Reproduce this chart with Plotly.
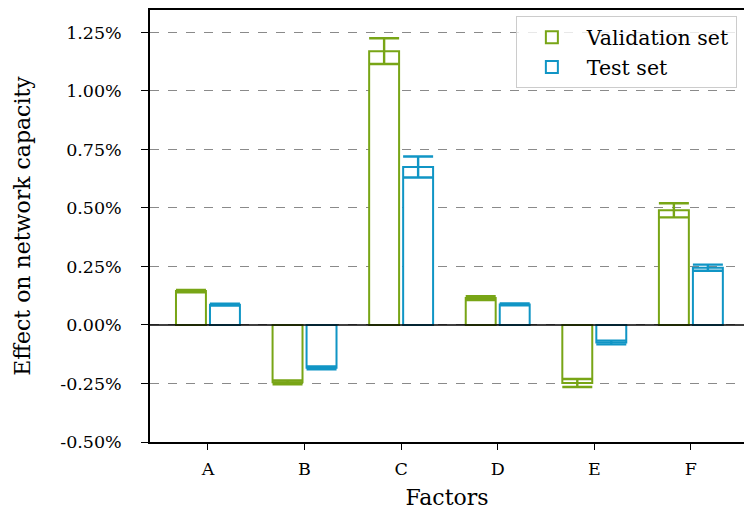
import plotly.graph_objects as go

factors = ["A", "B", "C", "D", "E", "F"]
val_mean = [0.145, -0.245, 1.170, 0.115, -0.248, 0.490]
val_err = [0.005, 0.008, 0.055, 0.008, 0.017, 0.030]
test_mean = [0.087, -0.183, 0.675, 0.088, -0.075, 0.245]
test_err = [0.004, 0.006, 0.045, 0.004, 0.008, 0.013]
tick_vals = [-0.5, -0.25, 0.0, 0.25, 0.5, 0.75, 1.0, 1.25]
tick_text = ["-0.50%", "-0.25%", "0.00%", "0.25%", "0.50%", "0.75%", "1.00%", "1.25%"]

GREEN = "#78a516"
BLUE = "#1095c5"
FONT = "DejaVu Serif"

fig = go.Figure()
fig.add_trace(go.Bar(
    x=factors, y=val_mean, name="Validation set",
    width=0.31, offset=-0.331,
    marker=dict(color="white", line=dict(color=GREEN, width=2)),
    error_y=dict(type="data", array=val_err, color=GREEN, thickness=2.4, width=15),
))
fig.add_trace(go.Bar(
    x=factors, y=test_mean, name="Test set",
    width=0.31, offset=0.021,
    marker=dict(color="white", line=dict(color=BLUE, width=2)),
    error_y=dict(type="data", array=test_err, color=BLUE, thickness=2.4, width=15),
))

fig.add_hline(y=0, line=dict(color="black", width=1.5), layer="above")

fig.update_layout(
    width=744, height=512,
    margin=dict(l=150, r=0, t=10, b=70),
    plot_bgcolor="white", paper_bgcolor="white",
    font=dict(family=FONT, size=17, color="black"),
    barmode="overlay",
    showlegend=True,
    legend=dict(
        x=0.988, y=0.985, xanchor="right", yanchor="top",
        bgcolor="rgba(255,255,255,0.8)", bordercolor="#cccccc", borderwidth=1,
        font=dict(family=FONT, size=20.5), itemwidth=60,
    ),
    xaxis=dict(
        range=[-0.6, 5.55], showline=True, linecolor="black", linewidth=1.5,
        mirror=True, ticks="outside", ticklen=6, tickwidth=1.2, tickcolor="black",
        showgrid=False, zeroline=False,
        title=dict(text="Factors", font=dict(family=FONT, size=22), standoff=12),
        tickfont=dict(family=FONT, size=17.5),
        ticklabelstandoff=4,
    ),
    yaxis=dict(
        range=[-0.5, 1.346], tickvals=tick_vals, ticktext=tick_text,
        showline=True, linecolor="black", linewidth=1.5,
        ticks="outside", ticklen=7, tickwidth=1.2, tickcolor="black",
        showgrid=True, gridcolor="#8a8a8a", griddash="dash", gridwidth=1.2,
        zeroline=False,
        title=dict(text="Effect on network capacity", font=dict(family=FONT, size=22), standoff=24),
        tickfont=dict(family=FONT, size=17.5),
        ticklabelstandoff=16,
    ),
)

fig.write_html("out.html")
